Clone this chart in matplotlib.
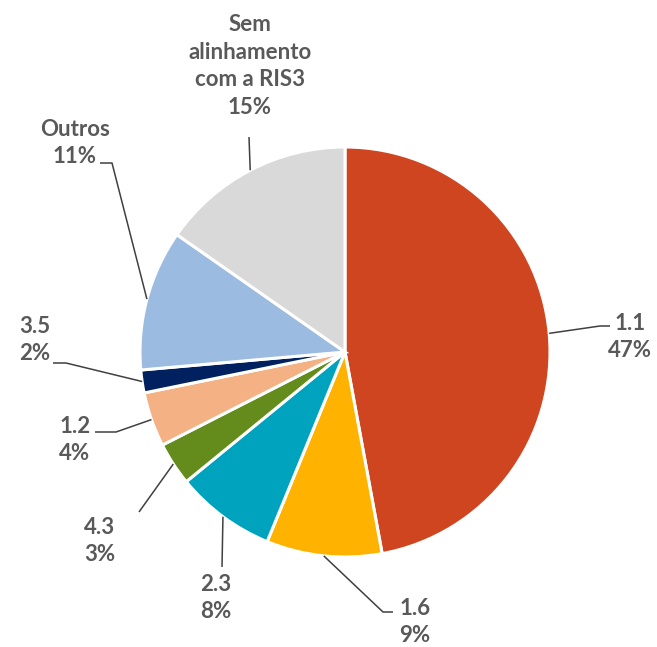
import numpy as np
import matplotlib
matplotlib.use("Agg")
import matplotlib.pyplot as plt

# ---- data ----
categories = ["1.1", "1.6", "2.3", "4.3", "1.2", "3.5", "Outros", "Sem\nalinhamento\ncom a RIS3"]
values = [47.1, 9.1, 7.9, 3.4, 4.3, 1.8, 11.1, 15.3]
colors = ["#CF4520", "#FFB300", "#00A3BE", "#638C1C", "#F4B183", "#002060", "#9BBBE0", "#D9D9D9"]

W, H = 657, 647
fig = plt.figure(figsize=(W / 100, H / 100), dpi=100)
ax = fig.add_axes([0, 0, 1, 1])

def P(x, y):
    return (x, H - y)

cx, cy = P(345, 352)
R = 205
wedges, _ = ax.pie(values, colors=colors, startangle=90, counterclock=False,
                   center=(cx, cy), radius=R, frame=True,
                   wedgeprops=dict(edgecolor="white", linewidth=2.2))
ax.set_xlim(0, W)
ax.set_ylim(0, H)
ax.set_aspect("equal")
ax.axis("off")

total = sum(values)
pcts = [round(v / total * 100) for v in values]

# label layout (pixel coords): text center, leader elbow points
layout = {
    "1.1": dict(text=(630, 337), pts=[(610, 326), (600, 326)]),
    "1.6": dict(text=(415, 622), pts=[(393, 612), (383, 612)]),
    "2.3": dict(text=(216, 598), pts=[(222, 567)]),
    "4.3": dict(text=(100, 541), pts=[(139, 512)]),
    "1.2": dict(text=(75, 440), pts=[(95, 432), (116, 432)]),
    "3.5": dict(text=(35, 340), pts=[(53, 363), (66, 363)]),
    "Outros": dict(text=(75, 143), pts=[(100, 163), (112, 163)]),
    "Sem\nalinhamento\ncom a RIS3": dict(text=(250, 66), pts=[(249, 137)]),
}

cum = 0.0
for cat, v, p in zip(categories, values, pcts):
    mid = (cum + v / 2) / total * 360.0
    cum += v
    theta = np.deg2rad(90 - mid)
    ax_ = cx + R * np.cos(theta)
    ay_ = cy + R * np.sin(theta)
    lay = layout[cat]
    pts = [P(*q) for q in lay["pts"]] + [(ax_, ay_)]
    xs, ys = zip(*pts)
    ax.plot(xs, ys, color="#404040", linewidth=1.1, solid_capstyle="butt", zorder=1)
    tx, ty = P(*lay["text"])
    ax.text(tx, ty, f"{cat}\n{p}%", ha="center", va="center", fontsize=16,
            fontweight="bold", color="#595959", family=["Lato", "DejaVu Sans"],
            linespacing=1.38)

fig.savefig("out.png", dpi=100)
